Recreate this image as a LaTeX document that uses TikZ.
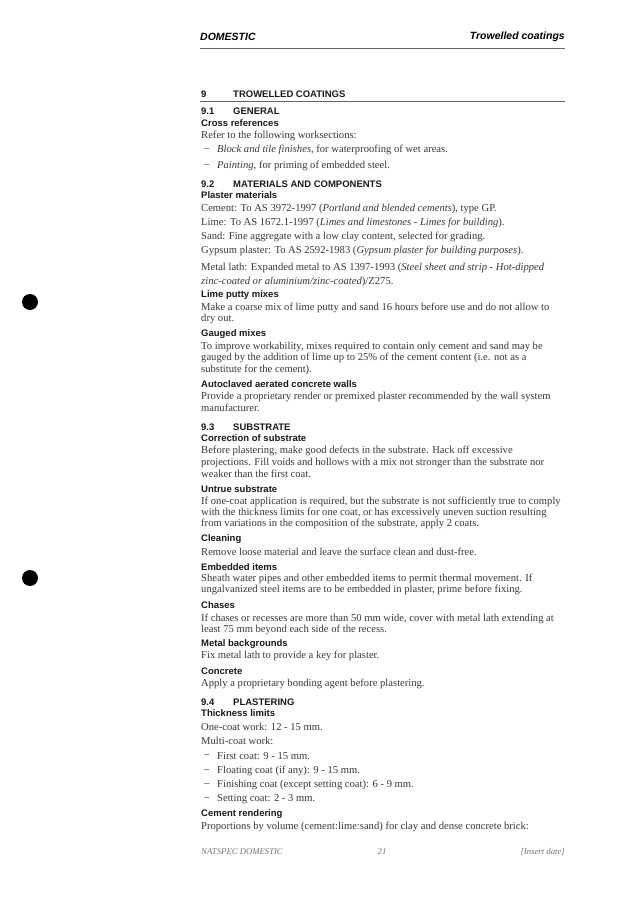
\documentclass[tikz,border=0pt]{standalone}
\usepackage{fontspec}
\setmainfont{Liberation Serif}
\setsansfont{Liberation Sans}
\newcounter{ln}
\newcommand\tl[3][body]{\stepcounter{ln}\node[#1] (t\theln) at (#2) {#3};}
\tikzset{
 body/.style={anchor=west,inner sep=0pt,font=\fontsize{10.6}{12}\selectfont,text=black!78},
 head/.style={anchor=west,inner sep=0pt,font=\sffamily\bfseries\fontsize{9.5}{11}\selectfont,text=black!90},
 top/.style={inner sep=0pt,font=\sffamily\bfseries\itshape\fontsize{10.5}{12}\selectfont},
 foot/.style={inner sep=0pt,font=\itshape\fontsize{8.7}{10}\selectfont,text=black!55},
 rule/.style={black!60,line width=0.8pt},
 hole/.style={fill=black,draw=none}
}
\begin{document}
\begin{tikzpicture}[x=1pt,y=-1pt]
\useasboundingbox[fill=white] (0,0) rectangle (637,910);
\tl[top,anchor=west]{200,37}{DOMESTIC}
\tl[top,anchor=east]{565,37}{Trowelled coatings}
\coordinate (r1a) at (200,48); \coordinate (r1b) at (565,48);
\draw[rule] (r1a) -- (r1b);
\tl[head]{201,94}{9}\tl[head]{233,94}{TROWELLED COATINGS}
\coordinate (r2a) at (200,101); \coordinate (r2b) at (565,101);
\draw[rule] (r2a) -- (r2b);
\tl[head]{201,111}{9.1}\tl[head]{233,111}{GENERAL}
\tl[head]{201,123}{Cross references}
\tl{201,136}{Refer to the following worksections:}
\tl{204,150}{--}\tl{217,150}{\textit{Block and tile finishes}, for waterproofing of wet areas.}
\tl{204,166}{--}\tl{217,166}{\textit{Painting}, for priming of embedded steel.}
\tl[head]{201,184}{9.2}\tl[head]{233,184}{MATERIALS AND COMPONENTS}
\tl[head]{201,195}{Plaster materials}
\tl{201,209}{Cement: To AS 3972-1997 (\textit{Portland and blended cements}), type GP.}
\tl{201,223}{Lime: To AS 1672.1-1997 (\textit{Limes and limestones - Limes for building}).}
\tl{201,237}{Sand: Fine aggregate with a low clay content, selected for grading.}
\tl{201,251}{Gypsum plaster: To AS 2592-1983 (\textit{Gypsum plaster for building purposes}).}
\tl{201,268}{Metal lath: Expanded metal to AS 1397-1993 (\textit{Steel sheet and strip - Hot-dipped}}
\tl{201,282}{\textit{zinc-coated or aluminium/zinc-coated})/Z275.}
\tl[head]{201,295}{Lime putty mixes}
\tl{201,308}{Make a coarse mix of lime putty and sand 16 hours before use and do not allow to}
\tl{201,319}{dry out.}
\tl[head]{201,334}{Gauged mixes}
\tl{201,347}{To improve workability, mixes required to contain only cement and sand may be}
\tl{201,358}{gauged by the addition of lime up to 25\% of the cement content (i.e. not as a}
\tl{201,370}{substitute for the cement).}
\tl[head]{201,384}{Autoclaved aerated concrete walls}
\tl{201,397}{Provide a proprietary render or premixed plaster recommended by the wall system}
\tl{201,408}{manufacturer.}
\tl[head]{201,427}{9.3}\tl[head]{233,427}{SUBSTRATE}
\tl[head]{201,438}{Correction of substrate}
\tl{201,451}{Before plastering, make good defects in the substrate. Hack off excessive}
\tl{201,463}{projections. Fill voids and hollows with a mix not stronger than the substrate nor}
\tl{201,474}{weaker than the first coat.}
\tl[head]{201,489}{Untrue substrate}
\tl{201,502}{If one-coat application is required, but the substrate is not sufficiently true to comply}
\tl{201,513}{with the thickness limits for one coat, or has excessively uneven suction resulting}
\tl{201,524}{from variations in the composition of the substrate, apply 2 coats.}
\tl[head]{201,539}{Cleaning}
\tl{201,552}{Remove loose material and leave the surface clean and dust-free.}
\tl[head]{201,567}{Embedded items}
\tl{201,579}{Sheath water pipes and other embedded items to permit thermal movement. If}
\tl{201,590}{ungalvanized steel items are to be embedded in plaster, prime before fixing.}
\tl[head]{201,605}{Chases}
\tl{201,619}{If chases or recesses are more than 50 mm wide, cover with metal lath extending at}
\tl{201,630}{least 75 mm beyond each side of the recess.}
\tl[head]{201,644}{Metal backgrounds}
\tl{201,656}{Fix metal lath to provide a key for plaster.}
\tl[head]{201,671}{Concrete}
\tl{201,684}{Apply a proprietary bonding agent before plastering.}
\tl[head]{201,702}{9.4}\tl[head]{233,702}{PLASTERING}
\tl[head]{201,713}{Thickness limits}
\tl{201,727}{One-coat work: 12 - 15 mm.}
\tl{201,741}{Multi-coat work:}
\tl{204,756}{--}\tl{217,756}{First coat: 9 - 15 mm.}
\tl{204,771}{--}\tl{217,771}{Floating coat (if any): 9 - 15 mm.}
\tl{204,785}{--}\tl{217,785}{Finishing coat (except setting coat): 6 - 9 mm.}
\tl{204,799}{--}\tl{217,799}{Setting coat: 2 - 3 mm.}
\tl[head]{201,814}{Cement rendering}
\tl{201,827}{Proportions by volume (cement:lime:sand) for clay and dense concrete brick:}
\tl[foot,anchor=west]{201,852}{NATSPEC DOMESTIC}
\tl[foot]{382,852}{21}
\tl[foot,anchor=east]{565,852}{[Insert date]}
\fill[hole] (30,302) circle (8);
\fill[hole] (30,578) circle (8);
\end{tikzpicture}
\end{document}
